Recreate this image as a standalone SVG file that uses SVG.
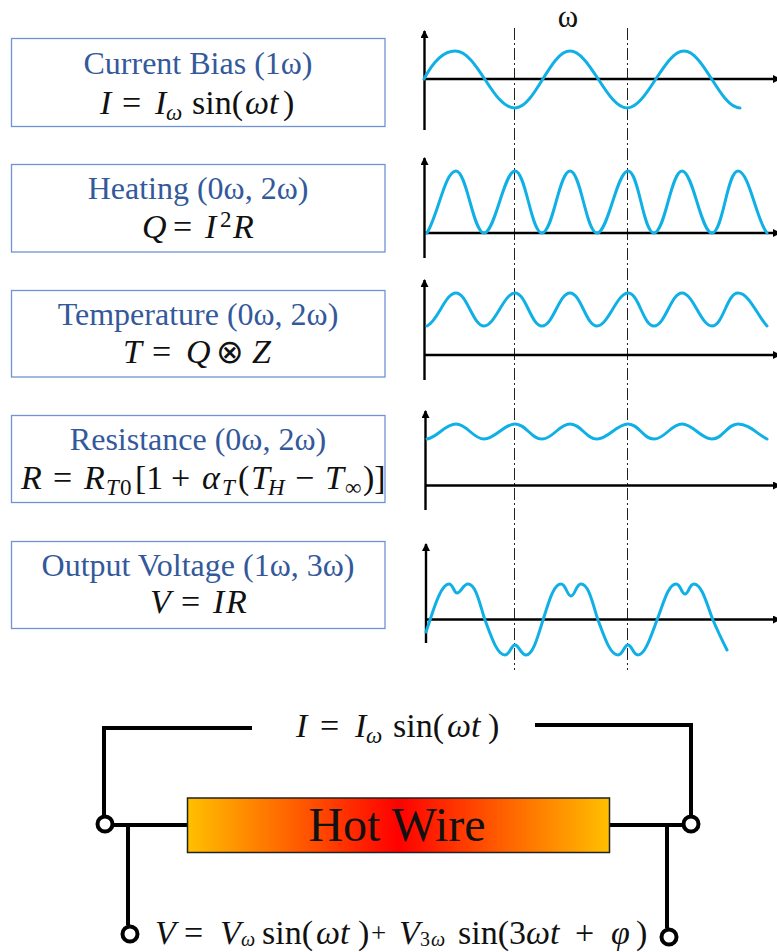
<svg xmlns="http://www.w3.org/2000/svg" width="777" height="952" viewBox="0 0 777 952">
<style>
.box{fill:#fff;stroke:#6f93d6;stroke-width:1.3}
.title{font-family:"Liberation Serif",serif;font-size:32px;fill:#33599b;text-anchor:middle}
.m{font-family:"Liberation Serif",serif;font-size:34px;fill:#111}
.i{font-style:italic}
.s{font-size:23px}
.b{font-size:20px}
.wave{fill:none;stroke:#10b0e6;stroke-width:3;stroke-linecap:round}
.axis{fill:none;stroke:#000;stroke-width:2.4}
.dash{fill:none;stroke:#222;stroke-width:1;stroke-dasharray:12 3 2 3}
.wire{fill:none;stroke:#000;stroke-width:4}
.term{fill:#fff;stroke:#000;stroke-width:4}
</style>
<defs>
<marker id="arrow" markerUnits="userSpaceOnUse" markerWidth="10" markerHeight="10" refX="7" refY="4" orient="auto"><path d="M0 0L8 4L0 8Z" fill="#000"/></marker>
<linearGradient id="hot" x1="0" x2="1" y1="0" y2="0"><stop offset="0" stop-color="#ffc000"/><stop offset=".5" stop-color="#ff0000"/><stop offset="1" stop-color="#ffc000"/></linearGradient>
</defs>

<g id="connectors">
<path class="dash" d="M514.5 28V670M627.5 28V670"/>
<path class="axis" marker-end="url(#arrow)" d="M424.5 130V31"/><path class="axis" marker-end="url(#arrow)" d="M424 79H780"/>
<path class="axis" marker-end="url(#arrow)" d="M424.5 258V158"/><path class="axis" marker-end="url(#arrow)" d="M424 233H780"/>
<path class="axis" marker-end="url(#arrow)" d="M424.5 380V280"/><path class="axis" marker-end="url(#arrow)" d="M424 355H780"/>
<path class="axis" marker-end="url(#arrow)" d="M425.5 510V411"/><path class="axis" marker-end="url(#arrow)" d="M425 485.5H780"/>
<path class="axis" marker-end="url(#arrow)" d="M426 643V544"/><path class="axis" marker-end="url(#arrow)" d="M426 619.5H780"/>
<path class="wire" d="M252 728H104V816M535 725H691V816M113 825H187M609 825H683M128 825V925M667 825V928"/>
</g>

<g id="wave-current"><path class="wave" d="M424 79C433 62 444 51 455 51C478 51 492 108 515 108C535 108 550 51 570 51C590 51 607 108 627 108C647 108 664 51 684 51C704 51 720 108 740 108"/></g>
<g id="wave-heating"><path class="wave" d="M427 233C438 215 445 171 456 171C467 171 473 233 484 233C495 233 504 171 515 171C526 171 531 233 542 233C553 233 559 171 570 171C581 171 586 233 597 233C608 233 617 171 628 171C639 171 643 233 654 233C665 233 671 171 682 171C693 171 701 233 712 233C723 233 727 171 738 171C749 171 757 222 767 233"/></g>
<g id="wave-temperature"><path class="wave" d="M427 326C438 321 445 293 456 293C467 293 473 326 484 326C495 326 504 293 515 293C526 293 531 326 542 326C553 326 559 293 570 293C581 293 586 326 597 326C608 326 617 293 628 293C639 293 643 326 654 326C665 326 671 293 682 293C693 293 701 326 712 326C723 326 727 293 738 293C749 293 757 315 767 326"/></g>
<g id="wave-resistance"><path class="wave" d="M427 439C438 437 445 424 456 424C467 424 473 439 484 439C495 439 504 424 515 424C526 424 531 439 542 439C553 439 559 424 570 424C581 424 586 439 597 439C608 439 617 424 628 424C639 424 643 439 654 439C665 439 671 424 682 424C693 424 701 439 712 439C723 439 727 424 738 424C749 424 757 434 767 439"/></g>
<g id="wave-voltage"><path class="wave" d="M426 632C432 615 440 584 449 584C453 584 454 593 457 593C461 593 463 584 468 584C476 584 480 605 485 620C491 636 497 655 505 655C510 655 511 645 515 645C519 645 521 655 526 655C533 655 538 636 543 620C548 605 553 584 561 584C566 584 567 596 571 596C575 596 576 584 581 584C589 584 593 605 598 620C604 636 610 655 618 655C623 655 624 645 628 645C632 645 633 655 638 655C645 655 651 636 657 620C663 605 668 584 676 584C681 584 681 594 685 594C689 594 689 584 694 584C702 584 707 605 713 620C718 632 723 642 727 650"/></g>

<g id="omega"><text x="568" y="27" font-family="Liberation Serif,serif" font-size="31" text-anchor="middle" fill="#111">ω</text></g>

<g id="box-current"><rect class="box" x="11.5" y="38.5" width="373.5" height="88"/>
<text class="title" x="198" y="74">Current Bias (1ω)</text>
<text class="m" y="114"><tspan class="i" x="100">I</tspan><tspan x="122">=</tspan><tspan class="i" x="155">I</tspan><tspan class="i s" x="166" y="120">ω</tspan><tspan x="192" y="114">sin(</tspan><tspan class="i" x="245">ωt</tspan><tspan x="283">)</tspan></text></g>

<g id="box-heating"><rect class="box" x="11.5" y="164.5" width="373.5" height="87.5"/>
<text class="title" x="198" y="199">Heating (0ω, 2ω)</text>
<text class="m" y="238"><tspan class="i" x="142">Q</tspan><tspan x="173">=</tspan><tspan class="i" x="205">I</tspan><tspan class="s" x="220" y="227">2</tspan><tspan class="i" x="233" y="238">R</tspan></text></g>

<g id="box-temperature"><rect class="box" x="11.5" y="290.5" width="373.5" height="86.5"/>
<text class="title" x="198" y="325">Temperature (0ω, 2ω)</text>
<text class="m" y="363"><tspan class="i" x="123">T</tspan><tspan x="152">=</tspan><tspan class="i" x="186">Q</tspan><tspan font-family="DejaVu Sans,sans-serif" font-size="33" x="216">⊗</tspan><tspan class="i" x="252">Z</tspan></text></g>

<g id="box-resistance"><rect class="box" x="11.5" y="415.5" width="373.5" height="87"/>
<text class="title" x="198" y="450">Resistance (0ω, 2ω)</text>
<text class="m" y="489"><tspan class="i" x="21">R</tspan><tspan x="53">=</tspan><tspan class="i" x="84">R</tspan><tspan class="i s" x="106" y="495">T</tspan><tspan class="s" x="120" y="495">0</tspan><tspan x="135" y="489">[1</tspan><tspan x="171">+</tspan><tspan class="i" x="202">α</tspan><tspan class="i s" x="222" y="495">T</tspan><tspan x="238" y="489">(</tspan><tspan class="i" x="251">T</tspan><tspan class="i s" x="268" y="495">H</tspan><tspan x="295" y="489">−</tspan><tspan class="i" x="325">T</tspan><tspan class="s" x="345" y="495">∞</tspan><tspan x="363" y="489">)]</tspan></text></g>

<g id="box-voltage"><rect class="box" x="11.5" y="541.5" width="373.5" height="87"/>
<text class="title" x="198" y="576">Output Voltage (1ω, 3ω)</text>
<text class="m" y="613"><tspan class="i" x="150">V</tspan><tspan x="181">=</tspan><tspan class="i" x="213">I</tspan><tspan class="i" x="226">R</tspan></text></g>

<g id="source-label"><text class="m" y="737"><tspan class="i" x="296">I</tspan><tspan x="320">=</tspan><tspan class="i" x="355">I</tspan><tspan class="i s" x="366" y="743">ω</tspan><tspan x="393" y="737">sin(</tspan><tspan class="i" x="447">ωt</tspan><tspan x="488">)</tspan></text></g>

<g id="hot-wire"><rect x="187.5" y="798" width="422" height="54.5" fill="url(#hot)" stroke="#222" stroke-width="1.5"/>
<text x="397" y="841" font-family="Liberation Serif,serif" font-size="48" text-anchor="middle" fill="#111">Hot Wire</text></g>

<g id="terminal-a"><circle class="term" cx="105" cy="824" r="7.5"/></g>
<g id="terminal-b"><circle class="term" cx="691" cy="824" r="7.5"/></g>
<g id="terminal-c"><circle class="term" cx="130" cy="934" r="7.5"/></g>
<g id="terminal-d"><circle class="term" cx="669" cy="937" r="7.5"/></g>

<g id="voltage-label"><text class="m" y="944"><tspan class="i" x="155">V</tspan><tspan x="184">=</tspan><tspan class="i" x="220">V</tspan><tspan class="i b" x="241" y="946">ω</tspan><tspan x="262" y="944">sin(</tspan><tspan class="i" x="316">ωt</tspan><tspan x="358">)</tspan><tspan font-size="27" x="371" y="942">+</tspan><tspan class="i" x="399" y="944">V</tspan><tspan class="b" x="420" y="946">3</tspan><tspan class="i b" x="431" y="946">ω</tspan><tspan x="458" y="944">sin(3</tspan><tspan class="i" x="526">ωt</tspan><tspan x="575">+</tspan><tspan class="i" x="611">φ</tspan><tspan x="636">)</tspan></text></g>
</svg>
